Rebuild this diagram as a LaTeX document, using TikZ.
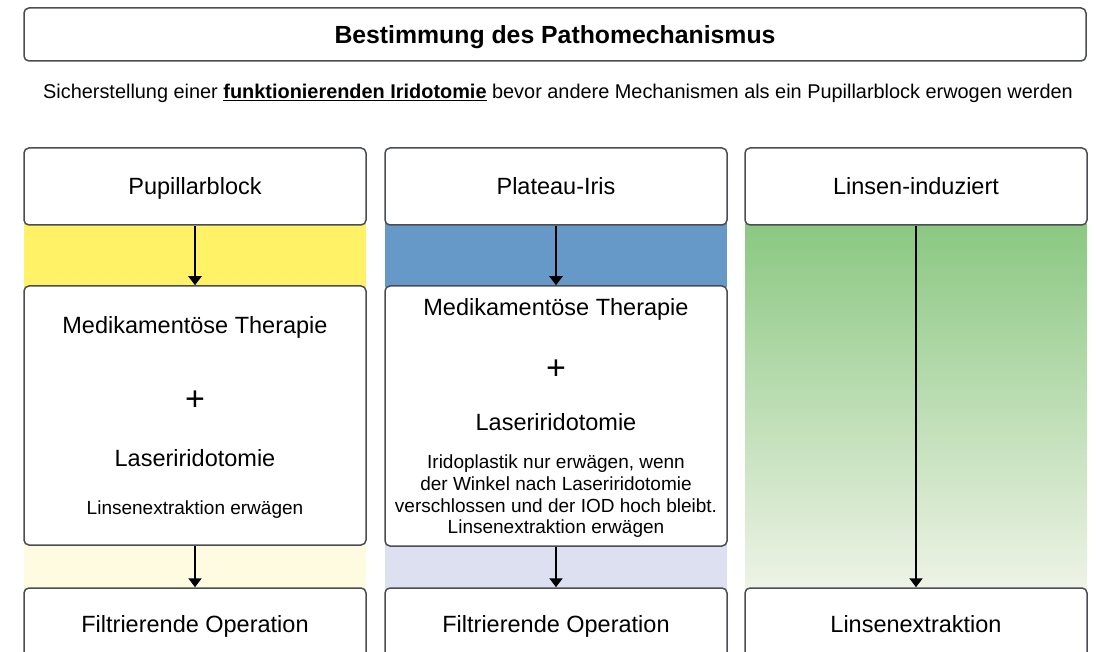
\documentclass[tikz,border=0pt]{standalone}
\usepackage{fontspec}
\setmainfont{Liberation Sans}
\usetikzlibrary{arrows.meta}
\definecolor{boxgray}{HTML}{4A4E52}
\definecolor{yel}{HTML}{FFF266}
\definecolor{yelpale}{HTML}{FFFBE0}
\definecolor{blu}{HTML}{6699C8}
\definecolor{lav}{HTML}{DDE0F0}
\definecolor{grntop}{HTML}{8BC882}
\definecolor{grnbot}{HTML}{EEF3E6}
\begin{document}
\begin{tikzpicture}[x=1pt,y=-1pt,
 box/.style={draw=boxgray, line width=1.5pt, rounded corners=5pt, fill=white, inner sep=0pt, align=center},
 lbl/.style={font=\fontsize{23.5}{28}\selectfont, text height=19pt, text depth=2pt},
 txt/.style={font=\fontsize{23.5}{28}\selectfont, inner sep=0pt, text height=19pt, text depth=2pt},
 plus/.style={font=\fontsize{34}{38}\selectfont, inner sep=0pt},
 small/.style={font=\fontsize{19}{21.7}\selectfont, align=center, inner sep=0pt},
 arr/.style={-{Triangle[length=9pt,width=13pt]}, line width=2pt, draw=black}]
\path[use as bounding box] (0,0) rectangle (1096,652);
\clip (0,0) rectangle (1096,652);
\fill[white] (0,0) rectangle (1096,652);
% column backgrounds
\fill[yel] (24,200) rectangle (366,287);
\fill[yelpale] (24,540) rectangle (366,590);
\fill[blu] (385,200) rectangle (727,287);
\fill[lav] (385,540) rectangle (727,590);
\shade[top color=grntop, bottom color=grnbot] (745,225) rectangle (1087,588);
% title
\node[box, minimum width=1062pt, minimum height=53pt, font=\bfseries\fontsize{24.8}{28}\selectfont, text height=20pt, text depth=2.2pt] (title) at (555,34.5) {Bestimmung des Pathomechanismus};
\node[font=\fontsize{19.9}{22}\selectfont, inner sep=0pt] (sub) at (558,93) {Sicherstellung einer \underline{\textbf{funktionierenden Iridotomie}} bevor andere Mechanismen als ein Pupillarblock erwogen werden};
% top boxes
\node[box, lbl, minimum width=342pt, minimum height=77pt] (pb) at (195,186.5) {Pupillarblock};
\node[box, lbl, minimum width=342pt, minimum height=77pt] (pi) at (556,186.5) {Plateau-Iris};
\node[box, lbl, minimum width=342pt, minimum height=77pt] (li) at (916,186.5) {Linsen-induziert};
% middle boxes
\node[box, minimum width=342pt, minimum height=259pt] (m1) at (195,415.5) {};
\node[box, minimum width=342pt, minimum height=260pt] (m2) at (556,416) {};
\node[txt] (m1a) at (195,325) {Medikamentöse Therapie};
\node[plus] (m1b) at (195,401) {+};
\node[txt] (m1c) at (195,458) {Laseriridotomie};
\node[small] (m1d) at (195,510) {Linsenextraktion erwägen};
\node[txt] (m2a) at (556,307) {Medikamentöse Therapie};
\node[plus] (m2b) at (556,370) {+};
\node[txt] (m2c) at (556,422) {Laseriridotomie};
\node[small] (m2d) at (556,496.5) {Iridoplastik nur erwägen, wenn\\der Winkel nach Laseriridotomie\\verschlossen und der IOD hoch bleibt.\\Linsenextraktion erwägen};
% bottom boxes
\node[box, lbl, minimum width=342pt, minimum height=72pt] (b1) at (195,624) {Filtrierende Operation};
\node[box, lbl, minimum width=342pt, minimum height=72pt] (b2) at (556,624) {Filtrierende Operation};
\node[box, lbl, minimum width=342pt, minimum height=72pt] (b3) at (916,624) {Linsenextraktion};
% arrows
\draw[arr] (pb.south) -- (m1.north);
\draw[arr] (pi.south) -- (m2.north);
\draw[arr] (m1.south) -- (b1.north);
\draw[arr] (m2.south) -- (b2.north);
\draw[arr] (li.south) -- (b3.north);
\end{tikzpicture}
\end{document}
